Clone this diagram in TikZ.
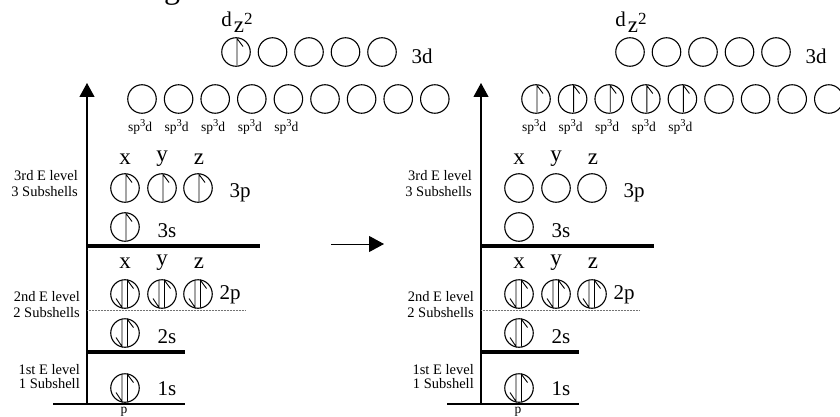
\documentclass[tikz,border=0pt]{standalone}
\usepackage{fontspec}
\setmainfont{Liberation Serif}
\usetikzlibrary{arrows.meta,calc}
\newcommand\myfs[1]{\fontsize{#1}{#1}\selectfont}
\newcommand\eup[1]{\draw[el] (#1) ++(1,13.5) -- ++(0,-27) -- ++(6,8);}
\newcommand\epair[1]{\draw[el] (#1) ++(-3,-13.5) -- ++(0,27) -- ++(-6,-9);
  \draw[el] (#1) ++(2.5,13.5) -- ++(0,-27) -- ++(6,8);}
\begin{document}
\begin{tikzpicture}[x=1pt,y=-1pt,
  orb/.style={circle,draw,line width=1.1pt,minimum size=28.5pt,inner sep=0pt},
  el/.style={line width=0.9pt},
  axis/.style={line width=1.1pt},
  lvl/.style={line width=4pt},
  sub/.style={draw=black!55,line width=0.5pt,densely dotted},
  big/.style={font=\myfs{21},inner sep=0pt},
  ax/.style={font=\myfs{23},inner sep=0pt},
  mid/.style={font=\myfs{21},inner sep=0pt},
  side/.style={font=\myfs{14.5},inner sep=0pt,align=right,anchor=east},
  small/.style={font=\myfs{13.5},inner sep=0pt},
  arr/.style={-{Triangle[length=14pt,width=15pt]}}]
\useasboundingbox (0,0) rectangle (840,417);
\node[font=\myfs{32},inner sep=0pt,anchor=base] (title) at (172,-1) {g};
\foreach \p/\o in {L/0,R/394}{
\begin{scope}[xshift=\o]
  % axes and level lines
  \coordinate (\p-b0) at (53,404); \coordinate (\p-b1) at (185,404);
  \draw[axis] (\p-b0) -- (\p-b1);
  \coordinate (\p-a0) at (87,404); \coordinate (\p-a1) at (87,83);
  \draw[axis,arr] (\p-a0) -- (\p-a1);
  \coordinate (\p-l1a) at (87,352); \coordinate (\p-l1b) at (185,352);
  \draw[lvl] (\p-l1a) -- (\p-l1b);
  \coordinate (\p-d1a) at (87,310); \coordinate (\p-d1b) at (245,310);
  \draw[sub] (\p-d1a) -- (\p-d1b);
  \coordinate (\p-l2a) at (87,246); \coordinate (\p-l2b) at (260,246);
  \draw[lvl] (\p-l2a) -- (\p-l2b);
  % orbitals
  \node[orb] (\p-1s) at (125,388) {};
  \node[orb] (\p-2s) at (125,333) {};
  \node[orb] (\p-2px) at (125,294) {};
  \node[orb] (\p-2py) at (162,294) {};
  \node[orb] (\p-2pz) at (198,294) {};
  \node[orb] (\p-3s) at (125,227) {};
  \node[orb] (\p-3px) at (125,188) {};
  \node[orb] (\p-3py) at (162,188) {};
  \node[orb] (\p-3pz) at (198,188) {};
  \foreach \i in {0,...,8}{
    \node[orb] (\p-sp\i) at ({142+36.6*\i},99) {};
  }
  \foreach \i in {0,...,4}{
    \node[orb] (\p-d\i) at ({236+36.5*\i},52) {};
    \node[small] (\p-spl\i) at ({140+36.6*\i},127) {sp\raisebox{5pt}{\myfs{10.5}3}d};
  }
  % labels
  \node[big] (\p-t1s) at (167,389) {1s};
  \node[big] (\p-t2s) at (167,337) {2s};
  \node[big] (\p-t2p) at (230,295) {2p};
  \node[big] (\p-t3s) at (167,231) {3s};
  \node[big] (\p-t3p) at (240,193) {3p};
  \node[ax] (\p-x2) at (125,263) {x};
  \node[ax] (\p-y2) at (162,263) {y};
  \node[ax] (\p-z2) at (199,263) {z};
  \node[ax] (\p-x3) at (125,159) {x};
  \node[ax] (\p-y3) at (162,159) {y};
  \node[ax] (\p-z3) at (199,159) {z};
  \node[mid] (\p-t3d) at (422,56) {3d};
  \node[mid] (\p-tdz) at (237,22) {d\hspace{2pt}\raisebox{-6pt}{\myfs{23}z}\raisebox{2pt}{\myfs{17}2}};
  \node[small] (\p-p) at (124,412) {p};
  \node[side] (\p-e3) at (78,183.5) {3rd E level\\[2pt]3 Subshells};
  \node[side] (\p-e2) at (80,304.5) {2nd E level\\[2pt]2 Subshells};
  \node[side] (\p-e1) at (80,376.5) {1st E level\\[0pt]1 Subshell};
\end{scope}
}
% electrons
\foreach \p in {L,R}{
  \epair{\p-1s} \epair{\p-2s} \epair{\p-2px} \epair{\p-2py} \epair{\p-2pz}
}
\eup{L-3s} \eup{L-3px} \eup{L-3py} \eup{L-3pz} \eup{L-d0}
\foreach \i in {0,...,4}{ \eup{R-sp\i} }
% middle arrow
\coordinate (m0) at (331,244); \coordinate (m1) at (384,244);
\draw[line width=1pt,-{Triangle[length=15pt,width=16pt]}] (m0) -- (m1);
\end{tikzpicture}
\end{document}
